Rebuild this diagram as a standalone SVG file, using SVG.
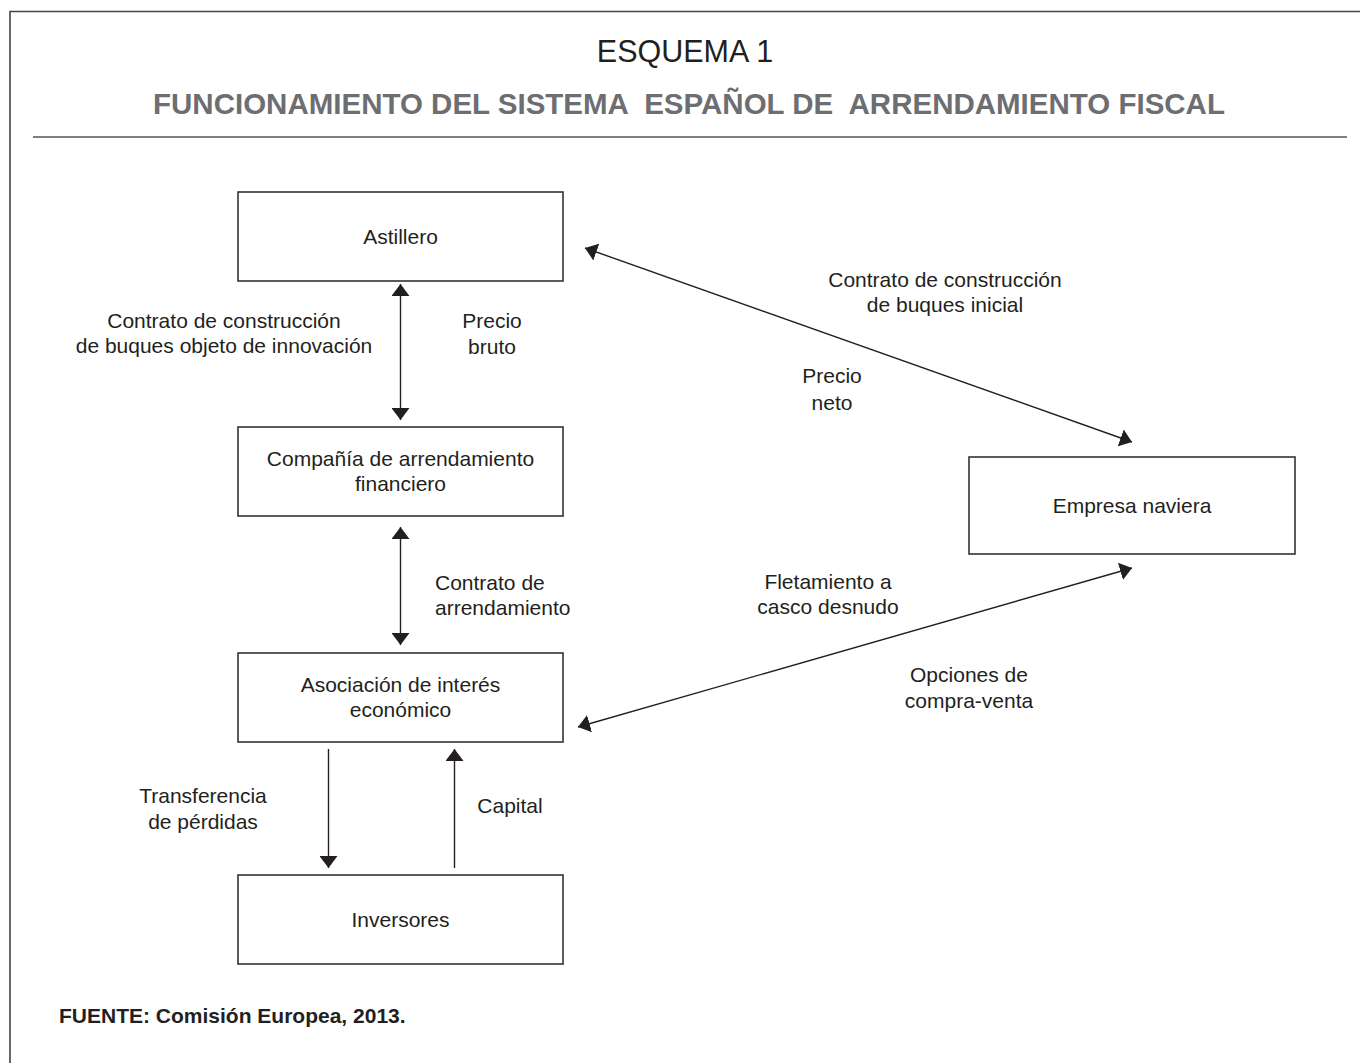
<svg xmlns="http://www.w3.org/2000/svg" width="1360" height="1063" viewBox="0 0 1360 1063">
<style>
  text { font-family: "Liberation Sans", Arial, sans-serif; fill: #231f20; }
  .t { font-size: 21px; text-anchor: middle; }
  .tl { font-size: 21px; }
  .box { fill: #fff; stroke: #333; stroke-width: 1.6; }
  .con { stroke: #231f20; stroke-width: 1.4; fill: none; }
  .title { font-size: 30.5px; text-anchor: middle; }
  .sub { font-size: 29.5px; font-weight: bold; fill: #6d6e71; text-anchor: middle; white-space: pre; }
  .src { font-size: 21px; font-weight: bold; }
</style>
<defs>
  <marker id="ah" viewBox="0 0 12 18" refX="12" refY="9" markerWidth="12" markerHeight="18" markerUnits="userSpaceOnUse" orient="auto-start-reverse">
    <path d="M0,0 L12,9 L0,18 z" fill="#231f20"/>
  </marker>
</defs>
<rect width="1360" height="1063" fill="#fff"/>
<path d="M10,1063 V11.5 H1360" fill="none" stroke="#444" stroke-width="1.6"/>
<text class="title" x="685" y="62">ESQUEMA 1</text>
<text class="sub" x="689" y="114" xml:space="preserve">FUNCIONAMIENTO DEL SISTEMA  ESPAÑOL DE  ARRENDAMIENTO FISCAL</text>
<line x1="33" y1="137" x2="1347" y2="137" stroke="#555" stroke-width="1.6"/>

<g id="astillero">
  <rect class="box" x="238" y="192" width="325" height="89"/>
  <text class="t" x="400.5" y="244">Astillero</text>
</g>
<g id="compania">
  <rect class="box" x="238" y="427" width="325" height="89"/>
  <text class="t" x="400.5" y="466">Compañía de arrendamiento</text>
  <text class="t" x="400.5" y="491">financiero</text>
</g>
<g id="asociacion">
  <rect class="box" x="238" y="653" width="325" height="89"/>
  <text class="t" x="400.5" y="692">Asociación de interés</text>
  <text class="t" x="400.5" y="717">económico</text>
</g>
<g id="inversores">
  <rect class="box" x="238" y="875" width="325" height="89"/>
  <text class="t" x="400.5" y="927">Inversores</text>
</g>
<g id="empresa">
  <rect class="box" x="969" y="457" width="326" height="97"/>
  <text class="t" x="1132" y="513">Empresa naviera</text>
</g>

<g id="connectors">
  <line class="con" x1="400.5" y1="284" x2="400.5" y2="420" marker-start="url(#ah)" marker-end="url(#ah)"/>
  <line class="con" x1="400.5" y1="527" x2="400.5" y2="645" marker-start="url(#ah)" marker-end="url(#ah)"/>
  <line class="con" x1="328.5" y1="749" x2="328.5" y2="868" marker-end="url(#ah)"/>
  <line class="con" x1="454.5" y1="868" x2="454.5" y2="749" marker-end="url(#ah)"/>
  <line class="con" x1="585" y1="248" x2="1132" y2="442" marker-start="url(#ah)" marker-end="url(#ah)"/>
  <line class="con" x1="578" y1="727" x2="1132" y2="568" marker-start="url(#ah)" marker-end="url(#ah)"/>
</g>

<g id="labels">
  <text class="t" x="224" y="328">Contrato de construcción</text>
  <text class="t" x="224" y="353">de buques objeto de innovación</text>
  <text class="t" x="492" y="328">Precio</text>
  <text class="t" x="492" y="354">bruto</text>
  <text class="t" x="945" y="287">Contrato de construcción</text>
  <text class="t" x="945" y="312">de buques inicial</text>
  <text class="t" x="832" y="383">Precio</text>
  <text class="t" x="832" y="410">neto</text>
  <text class="tl" x="435" y="590">Contrato de</text>
  <text class="tl" x="435" y="615">arrendamiento</text>
  <text class="t" x="828" y="589">Fletamiento a</text>
  <text class="t" x="828" y="614">casco desnudo</text>
  <text class="t" x="969" y="682">Opciones de</text>
  <text class="t" x="969" y="708">compra-venta</text>
  <text class="t" x="203" y="803">Transferencia</text>
  <text class="t" x="203" y="829">de pérdidas</text>
  <text class="t" x="510" y="813">Capital</text>
</g>
<text class="src" x="59" y="1023">FUENTE: Comisión Europea, 2013.</text>
</svg>
